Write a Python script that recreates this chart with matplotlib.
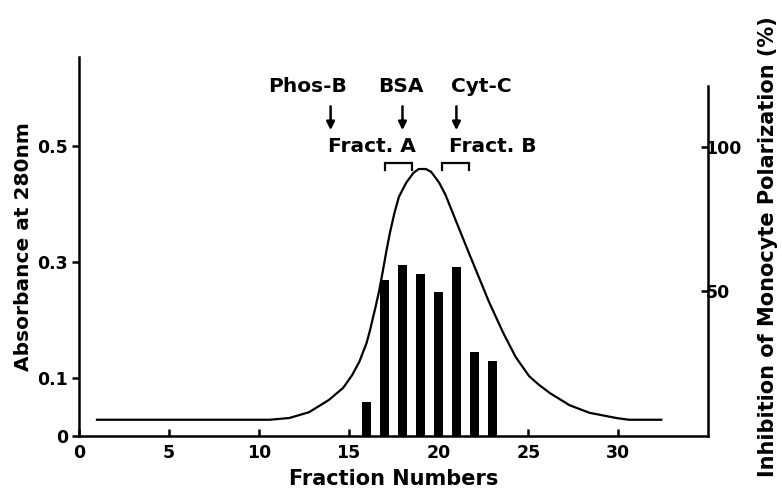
"""Gel filtration profile: absorbance at 280 nm and inhibition of monocyte polarization."""

import matplotlib

matplotlib.use("Agg")
import matplotlib.pyplot as plt

# --- data ---
curve_fraction = [1, 5, 10, 10.6, 11.7, 12.8, 13.9, 14.7, 15.2, 15.6, 16.0, 16.2, 16.35,
                  16.5, 16.7, 16.9, 17.1, 17.3, 17.55, 17.8, 18.2, 18.6, 18.9, 19.3, 19.6,
                  20.05, 20.4, 20.8, 21.7, 22.8, 23.6, 24.3, 25.05, 25.6, 26.2, 27.3,
                  28.4, 29.9, 30.6, 32.4]
curve_abs = [0.028, 0.028, 0.028, 0.028, 0.031, 0.041, 0.062, 0.083, 0.105, 0.128, 0.160,
             0.183, 0.203, 0.222, 0.250, 0.283, 0.318, 0.350, 0.384, 0.412, 0.436, 0.453,
             0.460, 0.460, 0.455, 0.436, 0.415, 0.384, 0.315, 0.232, 0.178, 0.136, 0.103,
             0.088, 0.074, 0.053, 0.040, 0.031, 0.028, 0.028]

bar_fraction = [16, 17, 18, 19, 20, 21, 22, 23]
bar_inhibition = [11.7, 54, 59, 56, 49.7, 58.5, 29, 26]

left_ticks = [0, 0.1, 0.3, 0.5]
left_ticklabels = ["0", "0.1", "0.3", "0.5"]
right_ticks = [50, 100]
x_ticks = [0, 5, 10, 15, 20, 25, 30]

markers = [("Phos-B", 14), ("BSA", 18), ("Cyt-C", 21)]
marker_label_x = [12.7, 17.9, 22.4]
fract_labels = [("Fract. A", 16.3, (17.05, 18.55)), ("Fract. B", 23.0, (20.2, 21.7))]

FONT = dict(fontweight="bold", family="DejaVu Sans")

fig = plt.figure(figsize=(7.82, 4.90), dpi=100)
ax = fig.add_axes([79 / 782, 1 - 436 / 490, (708 - 79) / 782, (436 - 57) / 490])
ax2 = ax.twinx()

# bars on right axis
ax2.bar(bar_fraction, bar_inhibition, width=0.52, color="black", zorder=2)
ax2.set_ylim(0, (437 - 57) / 2.9)

# absorbance curve on left axis
ax.plot(curve_fraction, curve_abs, color="black", lw=1.6, zorder=3,
        solid_joinstyle="round")
ax.set_xlim(0, 35)
ax.set_ylim(0, 0.653)
ax.set_zorder(ax2.get_zorder() + 1)
ax.patch.set_visible(False)

for a in (ax, ax2):
    a.spines["top"].set_visible(False)
    for s in a.spines.values():
        s.set_linewidth(1.8)
ax.spines["right"].set_visible(False)
ax2.spines["left"].set_visible(False)
ax2.spines["bottom"].set_visible(False)
ax2.spines["right"].set_bounds(0, 121)

ax.set_xticks(x_ticks)
ax.set_xticklabels([str(t) for t in x_ticks], fontsize=12.5, **FONT)
ax.tick_params(axis="x", direction="in", length=5, width=1.8, pad=6)
ax.set_yticks(left_ticks)
ax.set_yticklabels(left_ticklabels, fontsize=12.5, **FONT)
ax.tick_params(axis="y", direction="out", length=5, width=1.8, pad=3)
ax2.set_yticks(right_ticks)
ax2.set_yticklabels([str(t) for t in right_ticks], fontsize=12.5, **FONT)
ax2.tick_params(axis="y", direction="in", length=5, width=1.8, pad=-2)

ax.set_xlabel("Fraction Numbers", fontsize=15, labelpad=5, **FONT)
ax.set_ylabel("Absorbance at 280nm", fontsize=14.5, labelpad=3, **FONT)
ax2.set_ylabel("Inhibition of Monocyte Polarization (%)", fontsize=15, labelpad=12, **FONT)

# molecular weight markers
for (name, pos), lx in zip(markers, marker_label_x):
    ax.text(lx, 0.602, name, ha="center", va="center", fontsize=14.5, **FONT)
    ax.annotate("", xy=(pos, 0.527), xytext=(pos, 0.568),
                arrowprops=dict(arrowstyle="-|>", color="black", lw=1.8,
                                mutation_scale=12, shrinkA=0, shrinkB=0))

# fraction pools with brackets
for name, lx, (x0, x1) in fract_labels:
    ax.text(lx, 0.498, name, ha="center", va="center", fontsize=14.5, **FONT)
    ax.plot([x0, x0, x1, x1], [0.459, 0.471, 0.471, 0.459], color="black", lw=1.6,
            solid_joinstyle="miter")

fig.savefig("out.png", dpi=100)
